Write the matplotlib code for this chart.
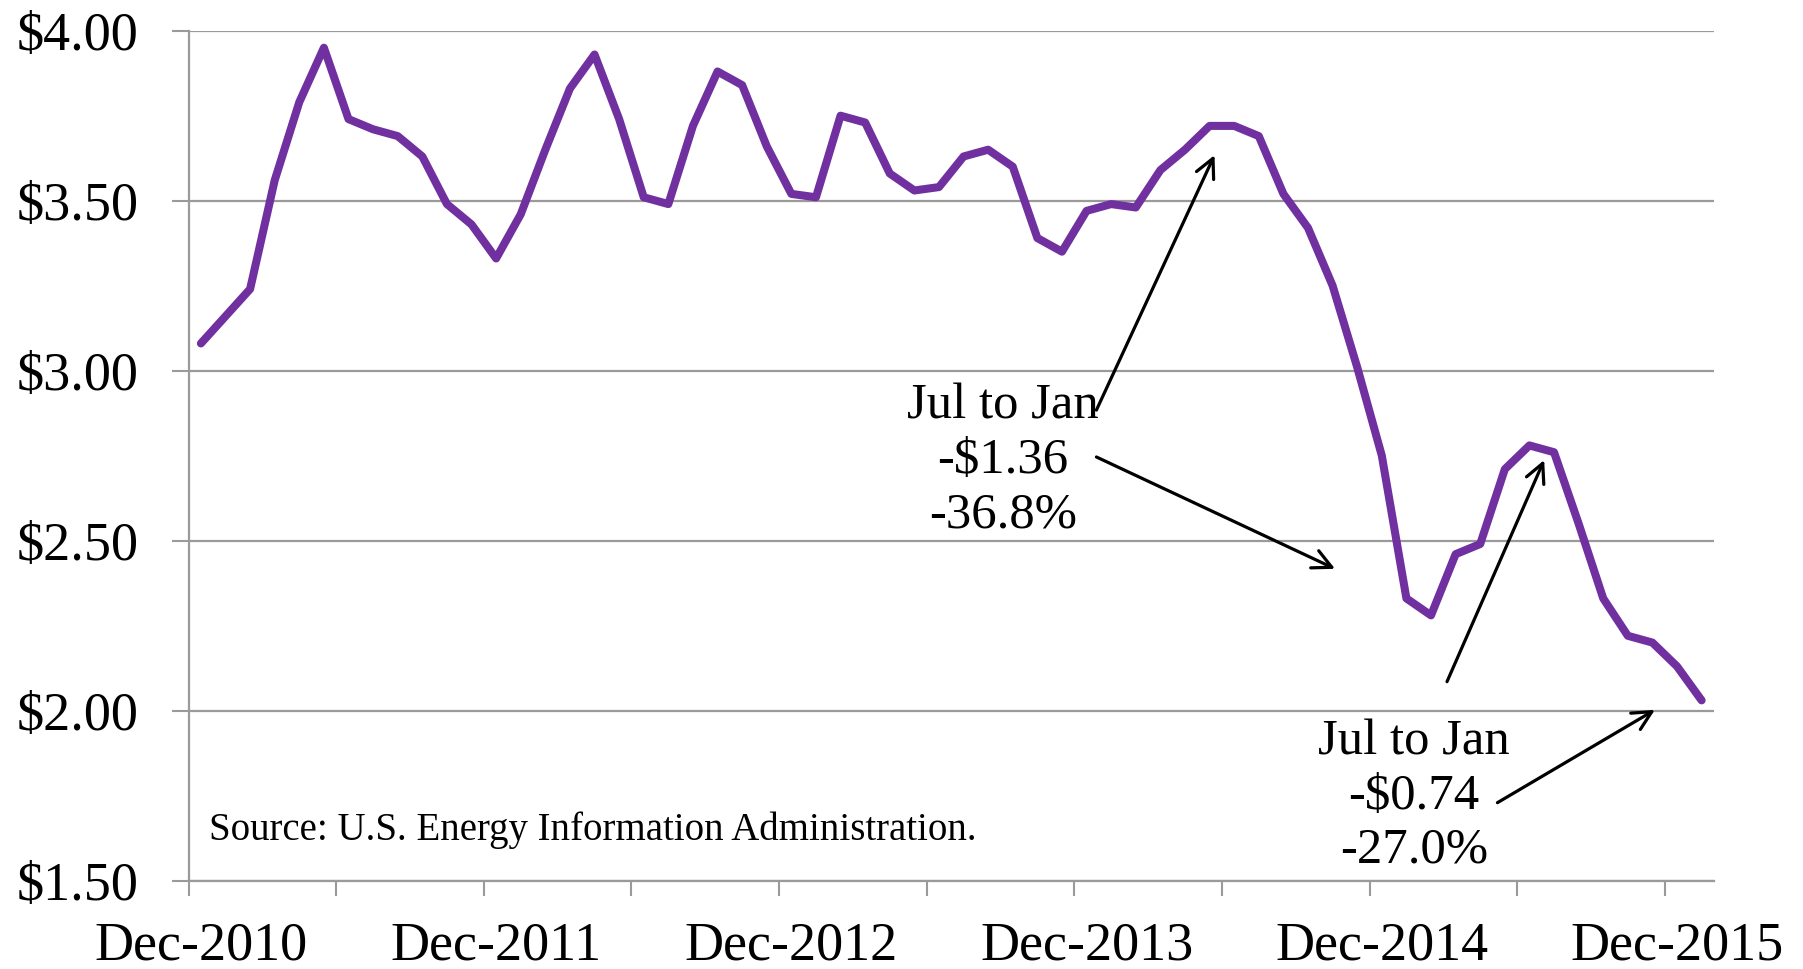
import numpy as np
import pandas as pd
import matplotlib
matplotlib.use('Agg')
import matplotlib.pyplot as plt

plt.rcParams['font.family'] = ['Liberation Serif', 'DejaVu Serif']
plt.rcParams['text.parse_math'] = False

# monthly average price, Dec-2010 .. Jan-2016
months = pd.date_range('2010-12-01', periods=62, freq='MS')
price = [3.08, 3.16, 3.24, 3.56, 3.79, 3.95, 3.74, 3.71, 3.69, 3.63,
         3.49, 3.43, 3.33, 3.46, 3.65, 3.83, 3.93, 3.74, 3.51, 3.49,
         3.72, 3.88, 3.84, 3.66, 3.52, 3.51, 3.75, 3.73, 3.58, 3.53,
         3.54, 3.63, 3.65, 3.60, 3.39, 3.35, 3.47, 3.49, 3.48, 3.59,
         3.65, 3.72, 3.72, 3.69, 3.52, 3.42, 3.25, 3.01, 2.75, 2.33,
         2.28, 2.46, 2.49, 2.71, 2.78, 2.76, 2.55, 2.33, 2.22, 2.20,
         2.13, 2.03]
yticks = [1.50, 2.00, 2.50, 3.00, 3.50, 4.00]
xlabels = [m.strftime('%b-%Y') for m in months if m.month == 12]
note1 = 'Jul to Jan\n-$1.36\n-36.8%'
note2 = 'Jul to Jan\n-$0.74\n-27.0%'
source = 'Source: U.S. Energy Information Administration.'

gray = '#9a9a9a'
x = np.arange(len(price))

fig = plt.figure(figsize=(18.03, 9.69), dpi=100)
ax = fig.add_axes([0.1046, 0.0913, 0.8460, 0.8770])

ax.plot(x, price, color='#7030A0', lw=5.8, solid_joinstyle='round',
        solid_capstyle='round', zorder=3)

ax.set_xlim(-0.5, len(price) - 0.5)
ax.set_ylim(1.5, 4.0)

ax.set_yticks(yticks)
ax.set_yticklabels(['${:.2f}'.format(v) for v in yticks])
ax.yaxis.grid(True, color=gray, lw=1.6)
ax.set_axisbelow(True)
ax.tick_params(axis='y', length=12, width=1.5, color=gray, pad=24,
               labelsize=39)

label_pos = [i for i, m in enumerate(months) if m.month == 12]
ax.set_xticks(label_pos)
ax.set_xticklabels(xlabels)
ax.set_xticks(np.arange(-0.5, len(price) - 1, 6), minor=True)
ax.tick_params(axis='x', which='major', length=0, pad=29, labelsize=39)
ax.tick_params(axis='x', which='minor', length=11, width=1.5, color=gray)

for s in ['top', 'right']:
    ax.spines[s].set_visible(False)
for s in ['left', 'bottom']:
    ax.spines[s].set_color(gray)
    ax.spines[s].set_linewidth(1.6)

arrow = dict(arrowstyle='->', lw=2.3, color='black', mutation_scale=34,
             shrinkA=0, shrinkB=0)

ax.text(32.6, 2.540, note1, ha='center', va='baseline', size=36.5,
        multialignment='center', linespacing=1.22)
ax.annotate('', xy=(41.2, 3.634), xytext=(36.4, 2.884), arrowprops=arrow)
ax.annotate('', xy=(46.1, 2.417), xytext=(36.4, 2.746), arrowprops=arrow)

ax.text(49.3, 1.552, note2, ha='center', va='baseline', size=36.5,
        multialignment='center', linespacing=1.22)
ax.annotate('', xy=(54.6, 2.737), xytext=(50.65, 2.085), arrowprops=arrow)
ax.annotate('', xy=(59.1, 2.002), xytext=(52.7, 1.729), arrowprops=arrow)

ax.text(0.0134, 0.0477, source, transform=ax.transAxes, size=28,
        va='baseline')

fig.savefig('out.png', dpi=100)
